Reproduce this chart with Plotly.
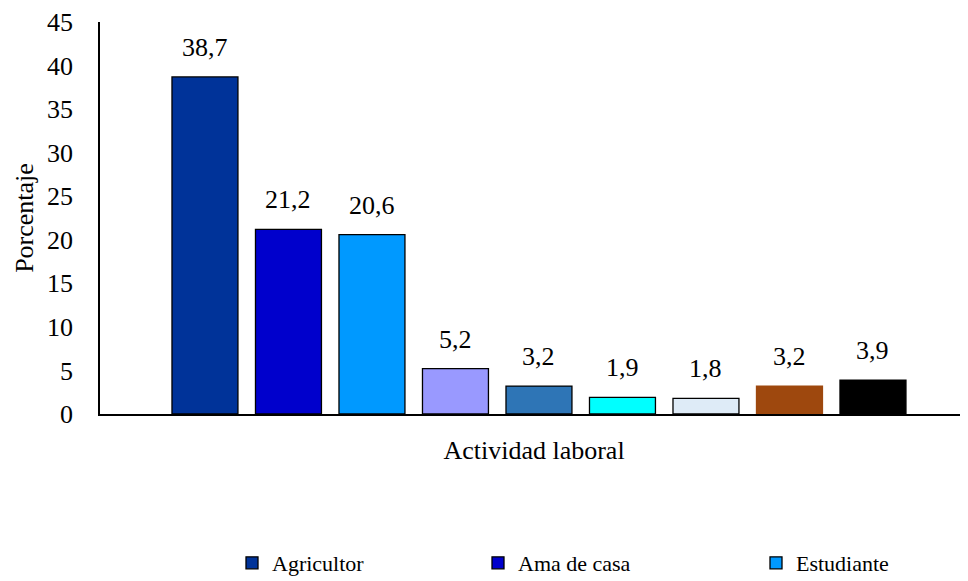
import plotly.graph_objects as go

categories = ["Agricultor", "Ama de casa", "Estudiante", "Comerciante", "Obrero",
              "Profesional", "Desempleado", "Jubilado", "Otros"]
values = [38.7, 21.2, 20.6, 5.2, 3.2, 1.9, 1.8, 3.2, 3.9]
colors = ["#003399", "#0000CC", "#0099FF", "#9999FF", "#2E75B6",
          "#00FFFF", "#DEEBF7", "#9E480E", "#000000"]
line_colors = ["#000000"] * 7 + ["#9E480E", "#000000"]
legend_ids = ["legend", "legend2", "legend3", None, None, None, None, None, None]
y_ticks = [0, 5, 10, 15, 20, 25, 30, 35, 40, 45]

FONT = "Liberation Serif"
W, H = 960, 573  # page body has an 8px margin

fig = go.Figure()
for cat, val, col, lc, lg in zip(categories, values, colors, line_colors, legend_ids):
    fig.add_trace(go.Bar(
        x=[cat], y=[val], name=cat,
        marker=dict(color=col, line=dict(color=lc, width=1.3)),
        showlegend=lg is not None,
        legend=lg if lg else "legend",
    ))
    fig.add_annotation(
        x=cat, y=val, text=f"{val:.1f}".replace(".", ","),
        showarrow=False, yanchor="bottom", yshift=13,
        font=dict(family=FONT, size=26, color="black"),
    )

legend_common = dict(
    orientation="h", xref="container", xanchor="left",
    y=1 - 555 / H, yref="container", yanchor="middle",
    font=dict(family=FONT, size=22, color="black"),
    itemwidth=30, bgcolor="rgba(0,0,0,0)",
)

fig.update_layout(
    width=W, height=H,
    margin=dict(l=92, r=0, t=14, b=167, autoexpand=False),
    plot_bgcolor="white", paper_bgcolor="white",
    barmode="overlay",
    bargap=0.21,
    font=dict(family=FONT, size=26, color="black"),
    legend=dict(x=224 / W, **legend_common),
    legend2=dict(x=470 / W, **legend_common),
    legend3=dict(x=748 / W, **legend_common),
    xaxis=dict(
        range=[-1.257, 9.138], automargin=False,
        showticklabels=False, showline=True, linecolor="black", linewidth=2,
        ticks="", showgrid=False,
        title=dict(text="Actividad laboral", standoff=26,
                   font=dict(family=FONT, size=26, color="black")),
    ),
    yaxis=dict(
        range=[0, 45], tickvals=y_ticks, showline=True, linecolor="black",
        linewidth=1.5, showgrid=False, ticks="", zeroline=False, automargin=False,
        ticklabelstandoff=20,
        title=dict(text="Porcentaje", standoff=6,
                   font=dict(family=FONT, size=26, color="black")),
        tickfont=dict(family=FONT, size=26, color="black"),
    ),
)

fig.write_html("out.html")
